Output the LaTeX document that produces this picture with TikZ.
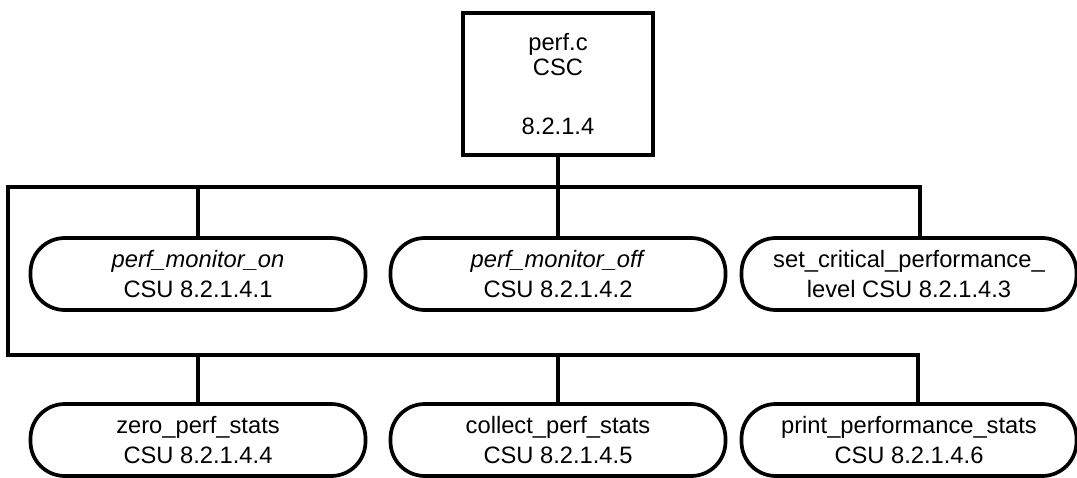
\documentclass[tikz,border=0pt]{standalone}
\usepackage{fontspec}
\setmainfont{Liberation Sans}
\tikzset{
  csc/.style={draw, line width=1.3pt, minimum width=66.5pt, minimum height=49.7pt, inner sep=0pt, align=center,
    font=\fontsize{8.3pt}{8.8pt}\selectfont},
  csu/.style={draw, line width=1.3pt, rounded corners=12pt, minimum width=117.25pt, minimum height=25.2pt,
    inner sep=0pt, align=center, font=\fontsize{8.3pt}{10.2pt}\selectfont},
  wire/.style={line width=1.2pt}
}
\begin{document}
\begin{tikzpicture}[x=0.35pt,y=-0.35pt]
\useasboundingbox (0,0) rectangle (1077,477);
% top CSC box
\node[csc] (perf) at (558,84) {perf.c\\CSC\\[12pt]8.2.1.4};
% first row of CSUs
\node[csu] (mon) at (198,274) {\textit{perf\_monitor\_on}\\CSU 8.2.1.4.1};
\node[csu] (moff) at (558,274) {\textit{perf\_monitor\_off}\\CSU 8.2.1.4.2};
\node[csu] (crit) at (909,274) {set\_critical\_performance\_\\level CSU 8.2.1.4.3};
% second row of CSUs
\node[csu] (zero) at (198,440) {zero\_perf\_stats\\CSU 8.2.1.4.4};
\node[csu] (coll) at (558,440) {collect\_perf\_stats\\CSU 8.2.1.4.5};
\node[csu] (prnt) at (909,440) {print\_performance\_stats\\CSU 8.2.1.4.6};
% buses
\coordinate (tl) at (8,187);
\coordinate (bl) at (8,355);
\draw[wire] (perf.south) -- (moff.north);
\draw[wire] ([xshift=3.85pt]crit.north) |- (tl) -- (bl) -| ([xshift=3.15pt]prnt.north);
\draw[wire] (mon.north) -- (mon.north |- tl);
\draw[wire] (zero.north) -- (zero.north |- bl);
\draw[wire] (coll.north) -- (coll.north |- bl);
\end{tikzpicture}
\end{document}
